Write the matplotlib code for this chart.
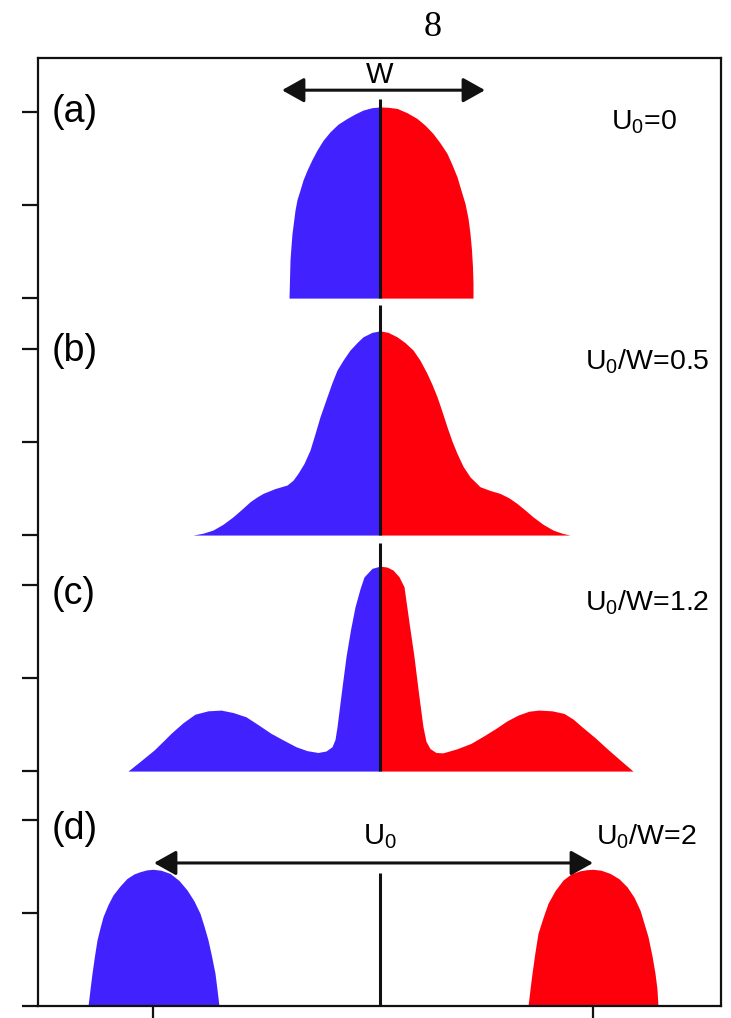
import matplotlib
matplotlib.use("Agg")
import matplotlib.pyplot as plt

plt.rcParams['font.family'] = ['Liberation Sans', 'DejaVu Sans']
plt.rcParams['mathtext.fontset'] = 'custom'
plt.rcParams['mathtext.rm'] = 'Liberation Sans'
plt.rcParams['mathtext.it'] = 'Liberation Sans'

BLUE = '#4122fe'
RED = '#fe000c'

# panel labels, parameter labels and vertical offset of each panel (bottom panel = 0)
panel_names = ['(a)', '(b)', '(c)', '(d)']
param_labels = [r'U$_0$=0', r'U$_0$/W=0.5', r'U$_0$/W=1.2', r'U$_0$/W=2']
panel_offsets = [3.806, 2.532, 1.263, 0.0]
center_line_tops = [1.07, 1.237, 1.226, 0.715]

# (a) U0 = 0
a_x = [-0.91, -0.905, -0.90, -0.89, -0.88, -0.865, -0.85, -0.83, -0.80, -0.77,
       -0.73, -0.68, -0.63, -0.57, -0.50, -0.42, -0.33, -0.25, -0.17, -0.08, 0.0,
       0.08, 0.17, 0.27, 0.37, 0.45, 0.53, 0.60, 0.67, 0.72, 0.77, 0.81, 0.85,
       0.88, 0.90, 0.915, 0.925, 0.93, 0.93]
a_y = [0.0, 0.10, 0.204, 0.28, 0.348, 0.41, 0.473, 0.53, 0.581, 0.635,
       0.688, 0.745, 0.796, 0.848, 0.894, 0.935, 0.966, 0.99, 1.011, 1.024, 1.028,
       1.026, 1.020, 0.997, 0.966, 0.93, 0.885, 0.835, 0.778, 0.718, 0.652, 0.58,
       0.509, 0.43, 0.348, 0.26, 0.168, 0.08, 0.0]

# (b) U0/W = 0.5
b_x = [-1.87, -1.77, -1.67, -1.57, -1.47, -1.38, -1.30, -1.23, -1.17, -1.05, -0.93,
       -0.87, -0.82, -0.76, -0.70, -0.65, -0.60, -0.53, -0.48, -0.43, -0.37, -0.30,
       -0.23, -0.17, -0.08, 0.0,
       0.08, 0.17, 0.25, 0.33, 0.40, 0.47, 0.52, 0.57, 0.62, 0.67, 0.72, 0.77, 0.83,
       0.90, 1.00, 1.10, 1.20, 1.29, 1.37, 1.45, 1.53, 1.63, 1.73, 1.82, 1.90]
b_y = [0.0, 0.01, 0.027, 0.058, 0.098, 0.14, 0.179, 0.205, 0.224, 0.25, 0.269,
       0.295, 0.332, 0.385, 0.457, 0.545, 0.636, 0.744, 0.82, 0.887, 0.94, 0.995,
       1.035, 1.066, 1.09, 1.098,
       1.09, 1.066, 1.035, 0.995, 0.94, 0.869, 0.81, 0.744, 0.665, 0.582, 0.505,
       0.439, 0.37, 0.313, 0.260, 0.24, 0.224, 0.2, 0.170, 0.135, 0.098, 0.058,
       0.027, 0.01, 0.0]

# (c) U0/W = 1.2
c_x = [-2.52, -2.39, -2.26, -2.17, -2.09, -1.97, -1.85, -1.72, -1.59, -1.47, -1.34,
       -1.22, -1.09, -0.96, -0.84, -0.73, -0.62, -0.54, -0.48, -0.45, -0.43, -0.385,
       -0.34, -0.295, -0.25, -0.20, -0.16, -0.08, 0.0,
       0.07, 0.13, 0.19, 0.24, 0.29, 0.34, 0.385, 0.43, 0.46, 0.50, 0.56, 0.63, 0.77,
       0.91, 1.04, 1.16, 1.27, 1.38, 1.49, 1.59, 1.72, 1.84, 1.93, 2.02, 2.15, 2.27,
       2.40, 2.53]
c_y = [0.0, 0.056, 0.113, 0.16, 0.203, 0.26, 0.306, 0.324, 0.328, 0.315, 0.292,
       0.25, 0.203, 0.165, 0.131, 0.11, 0.100, 0.108, 0.131, 0.17, 0.238, 0.43,
       0.615, 0.76, 0.883, 0.98, 1.044, 1.09, 1.102,
       1.097, 1.081, 1.045, 0.991, 0.80, 0.615, 0.42, 0.238, 0.16, 0.121, 0.10,
       0.098, 0.12, 0.149, 0.19, 0.230, 0.27, 0.301, 0.322, 0.328, 0.324, 0.310,
       0.28, 0.238, 0.18, 0.121, 0.06, 0.0]

# (d) U0/W = 2, two separated lobes
d_blue_x = [-2.92, -2.90, -2.88, -2.855, -2.83, -2.80, -2.77, -2.72, -2.67, -2.60,
            -2.53, -2.46, -2.40, -2.33, -2.27, -2.19, -2.10, -2.01, -1.93, -1.86,
            -1.80, -1.76, -1.72, -1.685, -1.65, -1.63, -1.61]
d_blue_y = [0.0, 0.09, 0.176, 0.27, 0.355, 0.42, 0.48, 0.545, 0.597, 0.645,
            0.686, 0.71, 0.722, 0.732, 0.735, 0.73, 0.713, 0.675, 0.624, 0.565,
            0.498, 0.43, 0.355, 0.27, 0.176, 0.09, 0.0]
d_red_x = [1.48, 1.50, 1.52, 1.55, 1.58, 1.63, 1.68, 1.75, 1.83, 1.91, 2.00, 2.07,
           2.13, 2.21, 2.30, 2.39, 2.47, 2.54, 2.60, 2.64, 2.68, 2.72, 2.75, 2.77,
           2.78]
d_red_y = [0.0, 0.09, 0.176, 0.29, 0.391, 0.475, 0.552, 0.62, 0.677, 0.71, 0.727,
           0.733, 0.735, 0.73, 0.713, 0.684, 0.641, 0.585, 0.516, 0.445, 0.373,
           0.27, 0.176, 0.09, 0.0]

# arrows: (x_start, x_end, height) in panel units
w_arrow = (-0.98, 1.05, 1.118)
u0_arrow = (-2.26, 2.13, 0.769)

x_ticks = [-2.27, 2.13]

fig = plt.figure(figsize=(7.31, 10.18), dpi=100)
ax = fig.add_axes([38 / 731, 12 / 1018, 683 / 731, 948 / 1018])
ax.set_xlim(-3.42, 3.41)
ax.set_ylim(0, 5.097)


def split_fill(xs, ys, off):
    left = [(x, y) for x, y in zip(xs, ys) if x <= 0]
    right = [(x, y) for x, y in zip(xs, ys) if x >= 0]
    ax.fill_between([p[0] for p in left], off, [off + p[1] for p in left],
                    color=BLUE, lw=0)
    ax.fill_between([p[0] for p in right], off, [off + p[1] for p in right],
                    color=RED, lw=0)


split_fill(a_x, a_y, panel_offsets[0])
split_fill(b_x, b_y, panel_offsets[1])
split_fill(c_x, c_y, panel_offsets[2])
ax.fill_between(d_blue_x, 0, d_blue_y, color=BLUE, lw=0)
ax.fill_between(d_red_x, 0, d_red_y, color=RED, lw=0)

# vertical centre lines
for off, top in zip(panel_offsets, center_line_tops):
    ax.plot([0, 0], [off, off + top], color='#111111', lw=2.2, solid_capstyle='butt')

# labels
label_y = [1.0, 0.99, 0.95, 0.95]
param_x = [2.31, 2.05, 2.05, 2.16]
param_y = [0.946, 0.93, 0.905, 0.91]
for i, off in enumerate(panel_offsets):
    ax.text(-3.28, off + label_y[i], panel_names[i], fontsize=27,
            ha='left', va='center')
    ax.text(param_x[i], off + param_y[i], param_labels[i], fontsize=20.5,
            ha='left', va='center')

# arrows
arrow_kw = dict(arrowstyle='<|-|>,head_length=0.75,head_width=0.42',
                mutation_scale=18, lw=2.2, color='#111111',
                shrinkA=0, shrinkB=0)
ax.annotate('', xy=(w_arrow[0], panel_offsets[0] + w_arrow[2]),
            xytext=(w_arrow[1], panel_offsets[0] + w_arrow[2]),
            arrowprops=arrow_kw)
ax.text(0, panel_offsets[0] + w_arrow[2] + 0.005, 'W', fontsize=21,
        ha='center', va='bottom')
ax.annotate('', xy=(u0_arrow[0], panel_offsets[3] + u0_arrow[2]),
            xytext=(u0_arrow[1], panel_offsets[3] + u0_arrow[2]),
            arrowprops=arrow_kw)
ax.text(0, panel_offsets[3] + 0.91, r'U$_0$', fontsize=21, ha='center', va='center')

# axes frame and ticks
y_ticks = [off + t for off in panel_offsets for t in (0.0, 0.5, 1.0)]
ax.set_yticks(y_ticks)
ax.set_xticks(x_ticks)
ax.set_yticklabels([])
ax.set_xticklabels([])
ax.tick_params(axis='y', direction='out', length=11.5, width=1.6, color='#111111')
ax.tick_params(axis='x', direction='out', length=9, width=1.6, color='#111111')
for s in ax.spines.values():
    s.set_linewidth(1.6)
    s.set_color('#111111')

fig.text(433 / 731, 1 - 27 / 1018, '8', fontsize=26, family='Liberation Serif',
         ha='center', va='center')

fig.savefig('out.png', dpi=100)
